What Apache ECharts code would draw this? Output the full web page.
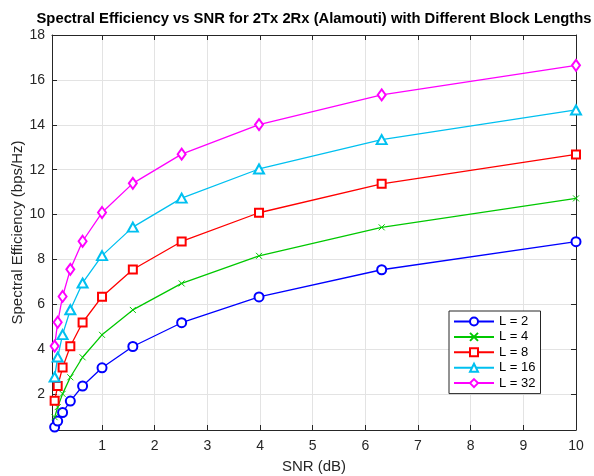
<!DOCTYPE html>
<html>
<head>
<meta charset="utf-8">
<script src="https://cdn.jsdelivr.net/npm/echarts@6/dist/echarts.min.js"></script>
<style>
  html, body { margin: 0; padding: 0; background: #fff; }
  #chart { width: 594px; height: 476px; }
</style>
</head>
<body>
<div id="chart"></div>
<script>
// SNR points (log spaced 0.1 .. 10)
var snr = [0.1, 0.158, 0.251, 0.398, 0.631, 1, 1.585, 2.512, 3.981, 6.31, 10]
var blockNames = ['L = 2', 'L = 4', 'L = 8', 'L = 16', 'L = 32']
var seL2 = [0.53, 0.80, 1.18, 1.69, 2.36, 3.17, 4.12, 5.18, 6.33, 7.54, 8.79]
var seL4 = [0.97, 1.42, 2.01, 2.75, 3.64, 4.64, 5.75, 6.93, 8.16, 9.43, 10.72]
var seL8 = [1.70, 2.36, 3.18, 4.13, 5.19, 6.34, 7.55, 8.80, 10.08, 11.37, 12.68]
var seL16 = [2.76, 3.65, 4.65, 5.76, 6.95, 8.17, 9.44, 10.73, 12.03, 13.34, 14.66]
var seL32 = [4.14, 5.20, 6.35, 7.56, 8.81, 10.09, 11.39, 12.69, 14.01, 15.33, 16.65]
var xTicks = [1, 2, 3, 4, 5, 6, 7, 8, 9, 10]
var yTicks = [2, 4, 6, 8, 10, 12, 14, 16, 18]

var allSeries = [seL2, seL4, seL8, seL16, seL32]
var colors = ['#0000FF', '#00C800', '#FF0000', '#00C0F0', '#FF00FF']
var symbols = ['emptyCircle', 'path://M0,0L10,10M10,0L0,10', 'emptyRect', 'emptyTriangle', 'emptyDiamond']
var sizes = [9, 6, 8, [10, 9], [8, 11]]

var chart = echarts.init(document.getElementById('chart'))
var font = 'Liberation Sans, Arial, Helvetica, sans-serif'
var axisCol = '#262626'

function mkX (pos, labels) {
  return {
    type: 'value',
    position: pos,
    min: 0.05,
    max: 10,
    axisLine: { show: true, onZero: false, lineStyle: { color: axisCol, width: 1 } },
    axisTick: { show: true, inside: true, length: 5, customValues: xTicks, lineStyle: { color: axisCol } },
    axisLabel: { show: labels, customValues: xTicks, color: axisCol, fontSize: 14, fontFamily: font, margin: 9 },
    splitLine: { show: labels, lineStyle: { color: '#e3e3e3', width: 1 } },
    name: labels ? 'SNR (dB)' : '',
    nameLocation: 'middle',
    nameGap: 29,
    nameTextStyle: { color: axisCol, fontSize: 15, fontFamily: font }
  }
}
function mkY (pos, labels) {
  return {
    type: 'value',
    position: pos,
    min: 0.4,
    max: 18,
    axisLine: { show: true, onZero: false, lineStyle: { color: axisCol, width: 1 } },
    axisTick: { show: true, inside: true, length: 5, customValues: yTicks, lineStyle: { color: axisCol } },
    axisLabel: { show: labels, customValues: yTicks, color: axisCol, fontSize: 14, fontFamily: font, margin: 7 },
    splitLine: { show: labels, lineStyle: { color: '#e3e3e3', width: 1 } },
    name: labels ? 'Spectral Efficiency (bps/Hz)' : '',
    nameLocation: 'middle',
    nameGap: 27,
    nameMoveOverlap: false,
    nameTextStyle: { color: axisCol, fontSize: 15, fontFamily: font }
  }
}

var series = []
for (var i = 0; i < allSeries.length; i++) {
  var pts = []
  for (var j = 0; j < snr.length; j++) {
    pts.push([snr[j], allSeries[i][j]])
  }
  series.push({
    name: blockNames[i],
    type: 'line',
    data: pts,
    symbol: symbols[i],
    symbolSize: sizes[i],
    showAllSymbol: true,
    lineStyle: { color: colors[i], width: 1.3 },
    itemStyle: { color: colors[i], borderColor: colors[i], borderWidth: 1 },
    emphasis: { disabled: true }
  })
}

chart.setOption({
  animation: false,
  backgroundColor: '#fff',
  title: {
    text: 'Spectral Efficiency vs SNR for 2Tx 2Rx (Alamouti) with Different Block Lengths',
    left: 309,
    textAlign: 'center',
    top: 6,
    textStyle: { fontSize: 14.8, fontWeight: 'bold', color: '#000', fontFamily: font }
  },
  grid: { left: 52, right: 18, top: 35, bottom: 46, containLabel: false, outerBoundsMode: 'none' },
  xAxis: [mkX('bottom', true), mkX('top', false)],
  yAxis: [mkY('left', true), mkY('right', false)],
  legend: {
    orient: 'vertical',
    left: 449,
    top: 311,
    itemWidth: 40,
    itemHeight: 10,
    itemGap: 2.4,
    padding: [4, 5, 4, 4],
    borderColor: axisCol,
    borderWidth: 1,
    backgroundColor: '#fff',
    textStyle: { fontSize: 13, lineHeight: 13, color: '#000', fontFamily: font },
    data: blockNames
  },
  series: series
})
</script>
</body>
</html>
